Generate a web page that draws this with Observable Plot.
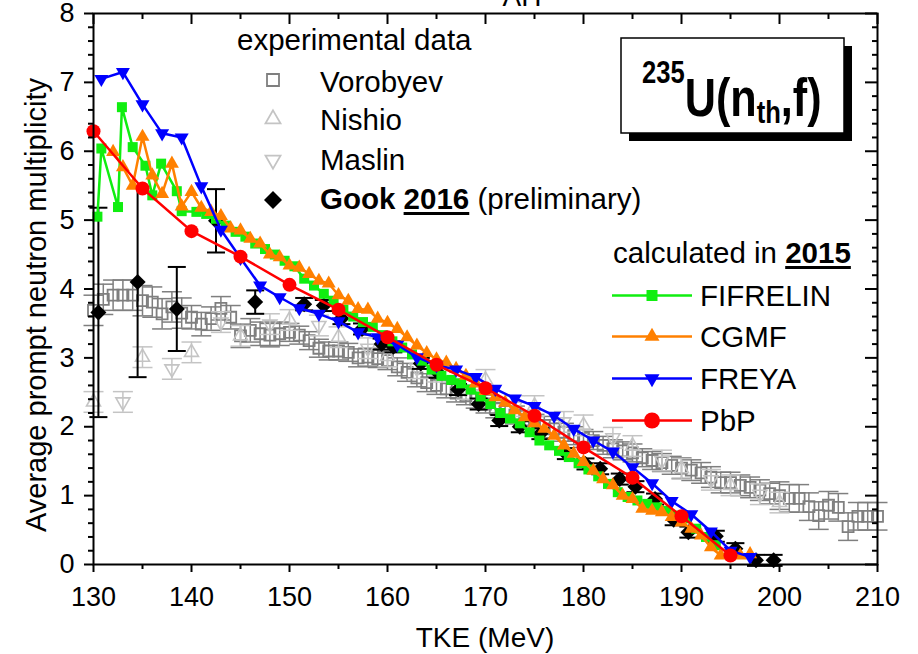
<!DOCTYPE html>
<html><head><meta charset="utf-8">
<script src="https://cdn.jsdelivr.net/npm/d3@7"></script>
<script src="https://cdn.jsdelivr.net/npm/@observablehq/plot@0.6"></script>
<style>
html,body{margin:0;padding:0;background:#fff;}
#chart svg{display:block;overflow:hidden;}
</style></head><body><div id="chart"></div>
<script>
// ---------- tick values ----------
const xMajor = [130,140,150,160,170,180,190,200,210];
const xMinor = [135,145,155,165,175,185,195,205];
const yMajor = [0,1,2,3,4,5,6,7,8];
const yMinor = [0.2,0.4,0.6,0.8,1.2,1.4,1.6,1.8,2.2,2.4,2.6,2.8,3.2,3.4,3.6,3.8,4.2,4.4,4.6,4.8,5.2,5.4,5.6,5.8,6.2,6.4,6.6,6.8,7.2,7.4,7.6,7.8];

// ---------- experimental data ----------
const vorX = [130,131,132,133,134,135,136,137,138,139,140,141,142,143,144,145,146,147,148,149,150,151,152,153,154,155,156,157,158,159,160,161,162,163,164,165,166,167,168,169,170,171,172,173,174,175,176,177,178,179,180,181,182,183,184,185,186,187,188,189,190,191,192,193,194,195,196,197,198,199,200,201,202,203,204,205,206,207,208,209,210];
const vorY = [3.69,3.85,3.91,3.91,3.91,3.83,3.81,3.64,3.74,3.65,
              3.59,3.49,3.57,3.72,3.59,3.32,3.40,3.35,3.33,3.35,
              3.37,3.33,3.25,3.14,3.10,3.10,3.08,3.00,3.01,2.99,
              2.96,2.87,2.79,2.71,2.64,2.60,2.55,2.49,2.45,2.40,
              2.33,2.26,2.22,2.17,2.10,2.05,2.02,1.97,1.92,1.87,
              1.83,1.80,1.73,1.68,1.65,1.62,1.55,1.51,1.48,1.44,
              1.40,1.37,1.33,1.27,1.19,1.19,1.15,1.12,1.08,1.03,
              1.00,0.96,0.96,0.84,0.71,0.86,0.83,0.55,0.70,0.70,0.70];
const vorE = [0.22,0.22,0.22,0.22,0.22,0.22,0.22,0.22,0.22,0.22,
              0.17,0.17,0.17,0.17,0.17,0.17,0.17,0.17,0.17,0.17,
              0.13,0.13,0.13,0.13,0.13,0.13,0.13,0.13,0.13,0.13,
              0.13,0.13,0.13,0.13,0.13,0.13,0.13,0.13,0.13,0.13,
              0.13,0.13,0.13,0.13,0.13,0.13,0.13,0.13,0.13,0.13,
              0.13,0.13,0.13,0.13,0.13,0.13,0.13,0.13,0.13,0.13,
              0.15,0.15,0.15,0.15,0.15,0.15,0.15,0.15,0.15,0.15,
              0.2,0.2,0.2,0.2,0.2,0.2,0.2,0.2,0.2,0.2,0.2];

const nisX = [130,135,140,145,150,155,160,165,170,175,180,185,190,195,200];
const nisY = [2.36,3.01,3.08,3.32,3.55,3.30,3.02,2.80,2.68,2.30,2.02,1.72,1.39,1.15,0.90];

const masX = [133,138,143,148,153,158,163,168,173,178,183,188,193,198];
const masY = [2.36,2.84,3.52,3.49,3.47,3.14,2.85,2.55,2.30,2.07,1.84,1.51,1.23,1.02];

const gookX = [130.5,134.5,138.5,142.5,146.5,151.5,153.5,155.3,157.4,159.4,160.6,163.4,165.1,167.2,169.3,171.4,173.5,175.6,178.2,180.2,181.7,183.7,185.3,187.3,189.2,190.7,193.5,195.5,197.6,199.4];
const gookY = [3.66,4.10,3.71,4.99,3.81,3.78,3.76,3.57,3.42,3.20,3.16,2.92,2.79,2.54,2.33,2.09,2.00,1.90,1.61,1.46,1.39,1.24,1.13,0.95,0.65,0.47,0.41,0.23,0.06,0.06];
const gookE = [1.52,1.38,0.61,0.46,0.17,0.09,0.08,0.08,0.08,0.08,0.08,0.08,0.08,0.08,0.08,0.08,0.08,0.08,0.08,0.08,0.08,0.08,0.08,0.08,0.08,0.08,0.08,0.08,0.08,0.08];

// ---------- calculations (2015) ----------
const fifX = [130.4,130.8,132.5,132.9,134.0,135.3,136.0,136.9,138.5,139.0,140.5,141.5,142.5,
  143.5,144.5,145.5,146.5,147.5,148.5,149.5,150.5,151.5,152.5,153.5,154.5,155.5,156.5,157.5,158.5,159.5,
  160.5,161.5,162.5,163.5,164.5,165.5,166.5,167.5,168.5,169.5,170.5,171.5,172.5,173.5,174.5,175.5,176.5,
  177.5,178.5,179.5,180.5,181.5,182.5,183.5,184.5,185.5,186.5,187.5,188.5,189.5,190.5,191.5,192.5,193.5];
const fifY = [5.05,6.04,5.19,6.64,6.06,5.79,5.36,5.82,5.42,5.13,5.12,5.09,5.02,
  4.92,4.83,4.76,4.66,4.58,4.50,4.41,4.33,4.15,4.05,3.93,3.83,3.70,3.60,3.52,3.45,3.33,
  3.24,3.15,3.05,2.96,2.83,2.74,2.68,2.63,2.54,2.44,2.33,2.20,2.12,2.05,1.92,1.80,1.73,
  1.65,1.56,1.47,1.38,1.28,1.17,1.05,0.98,0.93,0.88,0.83,0.78,0.71,0.67,0.52,0.40,0.28];

const cgmfX = [132,133,134,135,136,137,138,139,140,141,142,143,144,145,146,147,148,149,150,151,152,153,154,155,156,157,158,159,160,161,162,163,164,165,166,167,168,169,170,171,172,173,174,175,176,177,178,179,180,181,182,183,184,185,186,187,188,189,190,191,192,193,194,195,196,197];
const cgmfY = [5.99,5.77,5.50,6.21,5.65,5.38,5.82,5.20,5.41,5.18,5.12,5.06,4.88,4.85,4.73,4.66,4.50,4.46,4.34,4.31,4.22,4.12,4.08,3.91,3.83,3.71,3.70,3.57,3.51,3.42,3.30,3.18,3.07,2.98,2.93,2.84,2.74,2.63,2.52,2.43,2.35,2.24,2.14,2.05,1.97,1.87,1.73,1.61,1.49,1.36,1.24,1.15,1.00,0.95,0.81,0.78,0.76,0.69,0.61,0.52,0.42,0.25,0.13,0.14,0.13,0.15];

const freyaX = [130.8,133,135,137,139,141,143,145,147,149,151,153,155,157,159,161,163,165,167,169,171,173,175,177,179,181,183,185,187,189,191,193,195,197];
const freyaY = [7.05,7.15,6.68,6.26,6.20,5.49,4.86,4.45,4.05,3.88,3.72,3.64,3.53,3.37,3.30,3.19,3.01,2.89,2.83,2.72,2.55,2.41,2.30,2.16,1.97,1.80,1.64,1.41,1.18,0.92,0.73,0.48,0.20,0.11];

const pbpX = [130,135,140,145,150,155,160,165,170,175,180,185,190,195];
const pbpY = [6.29,5.46,4.84,4.47,4.06,3.70,3.30,2.90,2.56,2.16,1.70,1.26,0.70,0.13];

// ---------- legend texts ----------
const expTitle = "experimental data";
const expNames = ["Vorobyev","Nishio","Maslin"];
const calcNames = ["FIFRELIN","CGMF","FREYA","PbP"];

// ---------- build tables ----------
const vor = vorX.map((x,i)=>({x, y:vorY[i], e:vorE[i]}));
const nis = nisX.map((x,i)=>({x, y:nisY[i], e:0.15}));
const mas = masX.map((x,i)=>({x, y:masY[i], e:0.15}));
const gook = gookX.map((x,i)=>({x, y:gookY[i], e:gookE[i]}));
const fif = fifX.map((x,i)=>({x, y:fifY[i]}));
const cgmf = cgmfX.map((x,i)=>({x, y:cgmfY[i]}));
const freya = freyaX.map((x,i)=>({x, y:freyaY[i]}));
const pbp = pbpX.map((x,i)=>({x, y:pbpY[i]}));

// ---------- symbols ----------
const sq = s => ({draw(c){c.rect(-s/2,-s/2,s,s);}});
const triUp = w => { const h=w*Math.sqrt(3)/2; return {draw(c){c.moveTo(0,-2*h/3);c.lineTo(w/2,h/3);c.lineTo(-w/2,h/3);c.closePath();}}; };
const triDown = w => { const h=w*Math.sqrt(3)/2; return {draw(c){c.moveTo(0,2*h/3);c.lineTo(w/2,-h/3);c.lineTo(-w/2,-h/3);c.closePath();}}; };
const diamond = d => ({draw(c){c.moveTo(0,-d);c.lineTo(d,0);c.lineTo(0,d);c.lineTo(-d,0);c.closePath();}});
const disc = r => ({draw(c){c.moveTo(r,0);c.arc(0,0,r,0,2*Math.PI);}});
const cap = w => ({draw(c){c.moveTo(-w,0);c.lineTo(w,0);}});

const GREEN="#10ee10", ORANGE="#ff8000", BLUE="#0000ff", RED="#ff0000";
const GRAY="#7f7f7f", LGRAY="#c4c4c4";
const FONT="'Liberation Sans', Arial, Helvetica, sans-serif";
const TF = 27; // tick label font size

const W=918, H=654, ML=93, MR=41, MT=13, MB=90;
const IW=W-ML-MR, IH=H-MT-MB;

function errMarks(data, color, capW, sw){
  return [
    Plot.ruleX(data,{x:"x", y1:d=>d.y-d.e, y2:d=>d.y+d.e, stroke:color, strokeWidth:sw}),
    Plot.dot(data,{x:"x", y:d=>d.y+d.e, symbol:cap(capW), r:3, fill:"none", stroke:color, strokeWidth:sw}),
    Plot.dot(data,{x:"x", y:d=>d.y-d.e, symbol:cap(capW), r:3, fill:"none", stroke:color, strokeWidth:sw})
  ];
}

const chart = Plot.plot({
  width:W, height:H, marginLeft:ML, marginRight:MR, marginTop:MT, marginBottom:MB,
  x:{domain:[130,210], axis:null},
  y:{domain:[0,8], axis:null},
  style:{fontFamily:FONT, fontSize:TF+"px", background:"#fff", color:"#000"},
  marks:[
    // Vorobyev
    ...errMarks(vor, GRAY, 10, 1.5),
    Plot.dot(vor,{x:"x", y:"y", symbol:sq(11), r:5, fill:"none", stroke:GRAY, strokeWidth:1.8}),
    // Nishio
    ...errMarks(nis, LGRAY, 10, 1.5),
    Plot.dot(nis,{x:"x", y:"y", symbol:triUp(14), r:5, fill:"none", stroke:LGRAY, strokeWidth:1.6}),
    // Maslin
    ...errMarks(mas, LGRAY, 10, 1.5),
    Plot.dot(mas,{x:"x", y:"y", symbol:triDown(14), r:5, fill:"none", stroke:LGRAY, strokeWidth:1.6}),
    // Gook
    ...errMarks(gook, "#000", 9, 2),
    Plot.dot(gook,{x:"x", y:"y", symbol:diamond(8), r:5, fill:"#000", stroke:"none"}),
    // FIFRELIN
    Plot.line(fif,{x:"x", y:"y", stroke:GREEN, strokeWidth:2.5}),
    Plot.dot(fif,{x:"x", y:"y", symbol:sq(10), r:5, fill:GREEN, stroke:"none"}),
    // CGMF
    Plot.line(cgmf,{x:"x", y:"y", stroke:ORANGE, strokeWidth:2.5}),
    Plot.dot(cgmf,{x:"x", y:"y", symbol:triUp(14), r:5, fill:ORANGE, stroke:"none"}),
    // FREYA
    Plot.line(freya,{x:"x", y:"y", stroke:BLUE, strokeWidth:2.5}),
    Plot.dot(freya,{x:"x", y:"y", symbol:triDown(14), r:5, fill:BLUE, stroke:"none"}),
    // PbP
    Plot.line(pbp,{x:"x", y:"y", stroke:RED, strokeWidth:2.5}),
    Plot.dot(pbp,{x:"x", y:"y", symbol:disc(7), r:5, fill:RED, stroke:"none"}),
    // axes
    Plot.axisX({ticks:xMajor, tickSize:8, tickPadding:14, fontSize:TF, label:null, strokeWidth:2}),
    Plot.ruleX(xMinor,{x:d=>d, insetTop:IH, insetBottom:-5, strokeWidth:2}),
    Plot.ruleX(xMajor,{x:d=>d, insetBottom:IH-11, strokeWidth:2}),
    Plot.ruleX(xMinor,{x:d=>d, insetBottom:IH-6, strokeWidth:2}),
    Plot.axisY({ticks:yMajor, tickSize:9, tickPadding:10, fontSize:TF, label:null, strokeWidth:2}),
    Plot.ruleY(yMinor,{y:d=>d, insetRight:IW, insetLeft:-5, strokeWidth:2}),
    Plot.ruleY(yMajor,{y:d=>d, insetLeft:IW-12, strokeWidth:2}),
    Plot.ruleY(yMinor,{y:d=>d, insetLeft:IW-5, strokeWidth:2}),
    Plot.frame({stroke:"#000", strokeWidth:2})
  ]
});
document.getElementById("chart").appendChild(chart);

// ---------- annotations ----------
const svg = d3.select(chart);
const g = svg.append("g").attr("font-family", FONT).attr("fill","#000").attr("text-anchor","start");

function symPath(sym){ const p=d3.path(); sym.draw(p); return p.toString(); }
function runs(parent, x, y, parts){
  let cx = x;
  for (const p of parts){
    const t = parent.append("text").attr("x",cx).attr("y",y + (p.dy||0)).attr("text-anchor","start")
      .attr("font-size",p.size).attr("font-weight",p.bold?"bold":"normal")
      .style("white-space","pre").text(p.text);
    const w = t.node().getComputedTextLength();
    if (p.underline) parent.append("rect").attr("x",cx).attr("y",y+3).attr("width",w).attr("height",3).attr("fill","#000");
    cx += w;
  }
  return cx;
}

const LF = 29.5; // legend font size

// title fragment at the very top
g.append("text").attr("x",522).attr("y",6).attr("text-anchor","middle").attr("font-size",28).text("AH");

// axis labels
g.append("text").attr("transform","translate(46,305) rotate(-90)").attr("text-anchor","middle")
  .attr("font-size",29).text("Average prompt neutron multiplicity");
g.append("text").attr("x",485).attr("y",647).attr("text-anchor","middle").attr("font-size",28).text("TKE (MeV)");

// experimental legend
g.append("text").attr("x",237).attr("y",49.5).attr("font-size",LF).text(expTitle);
const expSyms = [
  {sym:sq(12), fill:"none", stroke:GRAY},
  {sym:triUp(15), fill:"none", stroke:LGRAY},
  {sym:triDown(15), fill:"none", stroke:LGRAY}
];
const expMarkY = [80,119,160];
const expTextY = [91.5,130,170];
expNames.forEach((n,i)=>{
  g.append("path").attr("d",symPath(expSyms[i].sym)).attr("transform",`translate(273,${expMarkY[i]})`)
    .attr("fill",expSyms[i].fill).attr("stroke",expSyms[i].stroke).attr("stroke-width",1.8);
  g.append("text").attr("x",320).attr("y",expTextY[i]).attr("font-size",LF).text(n);
});
g.append("path").attr("d",symPath(diamond(9))).attr("transform","translate(273,200)").attr("fill","#000");
runs(g, 320, 209, [
  {text:"Gook", size:LF, bold:true},
  {text:"\u00a0", size:LF, bold:true},
  {text:"2016", size:LF, bold:true, underline:true},
  {text:"\u00a0(preliminary)", size:LF}
]);

// calculated legend
runs(g, 613, 263, [
  {text:"calculated in\u00a0", size:LF},
  {text:"2015", size:LF, bold:true, underline:true}
]);
const calcCol = [GREEN, ORANGE, BLUE, RED];
const calcSym = [sq(11), triUp(15), triDown(15), disc(8)];
const calcBase = [306, 347, 389, 431];
calcNames.forEach((n,i)=>{
  const ly = calcBase[i]-10.5;
  g.append("line").attr("x1",612).attr("x2",692).attr("y1",ly).attr("y2",ly)
    .attr("stroke",calcCol[i]).attr("stroke-width",2.5);
  g.append("path").attr("d",symPath(calcSym[i])).attr("transform",`translate(652,${ly})`).attr("fill",calcCol[i]);
  g.append("text").attr("x",700).attr("y",calcBase[i]).attr("font-size",LF).text(n);
});

// reaction box with shadow
g.append("rect").attr("x",629).attr("y",46).attr("width",223).attr("height",95).attr("fill","#000");
g.append("rect").attr("x",621).attr("y",38).attr("width",223).attr("height",95).attr("fill","#fff").attr("stroke","#000").attr("stroke-width",1.5);
const bx = g.append("g").attr("transform","translate(642,116) scale(0.8,1)");
runs(bx, 0, 0, [
  {text:"235", size:32, bold:true, dy:-33},
  {text:"U(n", size:54, bold:true},
  {text:"th", size:32, bold:true, dy:7},
  {text:",f)", size:54, bold:true}
]);
</script>
</body></html>
